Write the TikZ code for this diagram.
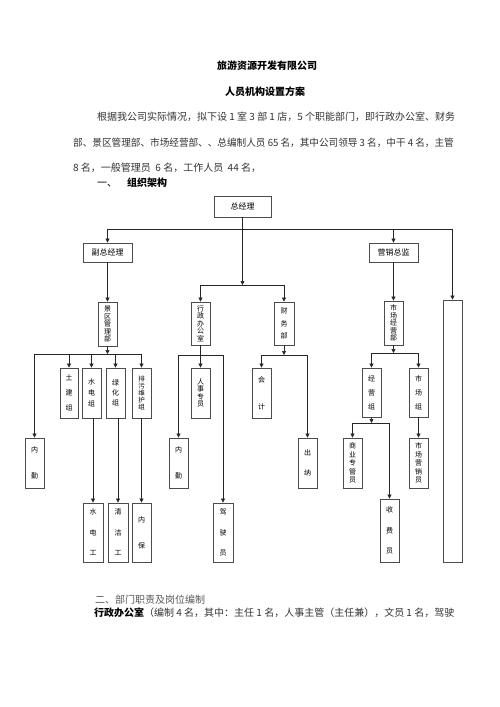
\documentclass[tikz,border=0pt]{standalone}
\usepackage{fontspec}
\usepackage{graphicx}
\setmainfont{Noto Sans CJK SC}
\usetikzlibrary{arrows.meta}
\newcommand\bxn[7][]{\node[bx,minimum width={#5-#3},minimum height={#6-#4},#1] (#2) at ({(#3+#5)/2},{(#4+#6)/2}) {#7};}
\begin{document}
\begin{tikzpicture}[x=1pt,y=-1pt,
  bx/.style={draw=black!70,line width=0.8pt,inner sep=0pt,fill=white},
  ln/.style={draw=black!85,line width=0.7pt},
  ar/.style={ln,-{Triangle[length=4pt,width=4pt]}},
  vt/.style={align=center,font=\fontsize{7}{#1}\selectfont},
  hz/.style={font=\fontsize{8}{9}\selectfont},
  body/.style={anchor=base west,inner sep=0pt,font=\fontsize{10}{12}\selectfont,text=black!80},
  ttl/.style={inner sep=0pt,font=\fontsize{10}{12}\selectfont\bfseries},
]
\fill[white] (0,0) rectangle (500,707);
\useasboundingbox (0,0) rectangle (500,707);

% titles and text
\node[ttl] (t1) at (267,66) {旅游资源开发有限公司};
\node[ttl] (t2) at (265,92) {人员机构设置方案};
\node[body] (p1) at (97,120) {根据我公司实际情况，拟下设 1 室 3 部 1 店，5 个职能部门，即行政办公室、财务};
\node[body] (p2) at (73,146) {\scalebox{0.962}[1]{部、景区管理部、市场经营部、、总编制人员 65 名，其中公司领导 3 名，中干 4 名，主管}};
\node[body] (p3) at (73,171) {8 名，一般管理员~~6 名，工作人员~~44 名，};
\node[body,text=black] (h1a) at (97,186) {一、};
\node[body,text=black,font=\fontsize{10}{12}\selectfont\bfseries] (h1b) at (127,186) {组织架构};
\node[body,text=black!65] (h2) at (95,603) {二、部门职责及岗位编制};
\node[body] (p4) at (94,616) {\textbf{\color{black}行政办公室}（编制 4 名，其中：主任 1 名，人事主管（主任兼），文员 1 名，驾驶};

% boxes
\bxn[hz]{zjl}{214}{196}{271}{217}{总经理}
\bxn[hz]{fzjl}{83}{243}{132}{262}{副总经理}
\bxn[hz]{yxzj}{369}{243}{418}{262}{营销总监}
\bxn[vt=7.5]{xz}{191}{302}{210}{345}{行\\政\\办\\公\\室}
\bxn[vt=12.5]{cw}{274}{302}{294}{345}{财\\务\\部}
\bxn[vt=7.5]{jq}{98}{302}{117}{346}{景\\区\\管\\理\\部}
\bxn[vt=7.5]{sc}{384}{301}{403}{345}{市\\场\\经\\营\\部}
\bxn{big}{443}{300}{462}{562}{}
\bxn[vt=15]{tj}{60}{368}{78}{418}{土\\建\\组}
\bxn[vt=11]{sdz}{82}{368}{101}{418}{水\\电\\组}
\bxn[vt=10]{lh}{106}{368}{125}{418}{绿\\化\\组}
\bxn[vt=7,font=\fontsize{6.5}{7}\selectfont]{pw}{132}{368}{151}{418}{排\\污\\维\\护\\组}
\bxn[vt=26]{nq1}{25}{438}{44}{488}{内\\勤}
\bxn[vt=20.5]{sdg}{83}{503}{103}{562}{水\\电\\工}
\bxn[vt=20.5]{qjg}{108}{503}{128}{562}{清\\洁\\工}
\bxn[vt=26]{nb}{132}{503}{151}{562}{内\\保}
\bxn[vt=7.5]{rs}{191}{368}{210}{418}{人\\事\\专\\员}
\bxn[vt=26]{nq2}{169}{438}{188}{488}{内\\勤}
\bxn[vt=20.5]{jsy}{213}{503}{233}{562}{驾\\驶\\员}
\bxn[vt=27]{kj}{252}{368}{271}{418}{会\\计}
\bxn[vt=20]{cn}{298}{438}{317}{488}{出\\纳}
\bxn[vt=14]{jyz}{362}{368}{381}{417}{经\\营\\组}
\bxn[vt=14]{scz}{409}{368}{428}{417}{市\\场\\组}
\bxn[vt=8.5]{syz}{343}{438}{362}{488}{商\\业\\专\\管\\员}
\bxn[vt=20.5]{sfy}{380}{499}{399}{562}{收\\费\\员}
\bxn[vt=8.5]{scyx}{409}{438}{428}{488}{市\\场\\营\\销\\员}

% bus levels
\coordinate (hy) at (0,229);
\coordinate (m) at (0,285);
\coordinate (b1) at (0,354);
\coordinate (b2) at (0,355);
\coordinate (b3) at (0,355);
\coordinate (b4) at (0,353);
\coordinate (b5) at (0,423);

% top level
\draw[ar] (big.north |- hy) -- (fzjl.north |- hy) -- (fzjl.north);
\draw[ar] (big.north |- hy) -- (big.north);
\draw[ar] (yxzj.north |- hy) -- (yxzj.north);
\draw[ar] (zjl.south) -- (zjl.south |- m);
\draw[ar] (cw.north |- m) -- (xz.north |- m) -- (xz.north);
\draw[ar] (cw.north |- m) -- (cw.north);
\draw[ar] (fzjl.south) -- (jq.north);
\draw[ar] (yxzj.south) -- (sc.north);

% scenic area dept
\draw[ar] (jq.south) -- (jq.south |- b1);
\draw[ar] (pw.north |- b1) -- (nq1.north |- b1) -- (nq1.north);
\draw[ar] (tj.north |- b1) -- (tj.north);
\draw[ar] (sdz.north |- b1) -- (sdz.north);
\draw[ar] (lh.north |- b1) -- (lh.north);
\draw[ar] (pw.north |- b1) -- (pw.north);
\draw[ar] (sdg.north |- sdz.south) -- (sdg.north);
\draw[ar] (qjg.north |- lh.south) -- (qjg.north);
\draw[ar] (nb.north |- pw.south) -- (nb.north);

% admin office
\draw[ar] (xz.south) -- (rs.north);
\draw[ar] (jsy.north |- b2) -- (nq2.north |- b2) -- (nq2.north);
\draw[ar] (jsy.north |- b2) -- (jsy.north);

% finance
\draw[ar] (cw.south) -- (cw.south |- b3);
\draw[ar] (cn.north |- b3) -- (kj.north |- b3) -- (kj.north);
\draw[ar] (cn.north |- b3) -- (cn.north);

% market
\draw[ar] (sc.south) -- (sc.south |- b4);
\draw[ar] (scz.north |- b4) -- (jyz.north |- b4) -- (jyz.north);
\draw[ar] (scz.north |- b4) -- (scz.north);
\draw[ar] (jyz.south) -- (jyz.south |- b5);
\draw[ar] (sfy.north |- b5) -- (syz.north |- b5) -- (syz.north);
\draw[ar] (sfy.north |- b5) -- (sfy.north);
\draw[ar] (scz.south) -- (scyx.north);
\end{tikzpicture}
\end{document}
